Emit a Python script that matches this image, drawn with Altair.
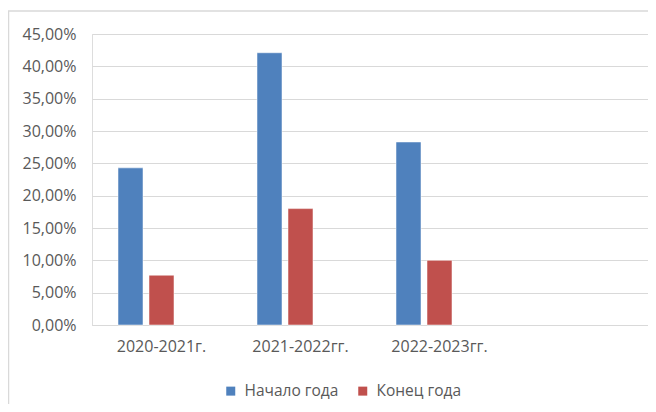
import altair as alt
import pandas as pd

categories = ["2020-2021г.", "2021-2022гг.", "2022-2023гг."]
series = ["Начало года", "Конец года"]
start_values = [0.243, 0.421, 0.283]
end_values = [0.077, 0.180, 0.100]
y_ticks = [0, 0.05, 0.10, 0.15, 0.20, 0.25, 0.30, 0.35, 0.40, 0.45]
colors = ["#4F81BD", "#C0504D"]

rows = []
for c, s, e in zip(categories, start_values, end_values):
    rows.append({"cat": c, "series": series[0], "value": s})
    rows.append({"cat": c, "series": series[1], "value": e})
df = pd.DataFrame(rows)

FONT = "Open Sans"
LABEL_COLOR = "#595959"
GRID = "#d9d9d9"

x_domain = categories + [" "]

bars = alt.Chart(df).mark_bar(stroke="#ffffff", strokeWidth=1, strokeOpacity=0.5).encode(
    x=alt.X("cat:N", sort=x_domain,
            scale=alt.Scale(domain=x_domain, paddingInner=0, paddingOuter=0),
            axis=alt.Axis(title=None, labelAngle=0, ticks=False, domainColor=GRID,
                          labelFont=FONT, labelFontSize=16, labelColor=LABEL_COLOR,
                          labelPadding=13)),
    xOffset=alt.XOffset("series:N",
                        scale=alt.Scale(domain=series + ["_"], paddingInner=0.1935, paddingOuter=0.839)),
    y=alt.Y("value:Q",
            scale=alt.Scale(domain=[0, 0.45], nice=False),
            axis=alt.Axis(title=None, values=y_ticks, ticks=False, domain=False,
                          gridColor=GRID, labelFont=FONT, labelFontSize=16,
                          labelColor=LABEL_COLOR, labelPadding=16,
                          labelExpr="replace(format(datum.value, '.2%'), '.', ',')")),
    color=alt.Color("series:N", scale=alt.Scale(domain=series, range=colors),
                    legend=alt.Legend(title=None, orient="none", direction="horizontal",
                                      legendX=131, legendY=349, symbolType="square",
                                      symbolSize=81, symbolStrokeWidth=0,
                                      labelFont=FONT, labelFontSize=15.5,
                                      labelColor=LABEL_COLOR, columnPadding=16,
                                      labelOffset=6)),
)

frame = alt.Chart(pd.DataFrame({"a": [0]})).mark_rect(
    fill=None, stroke="#d9d9d9", strokeWidth=1.5
).encode(x=alt.value(-83.5), x2=alt.value(620), y=alt.value(-23), y2=alt.value(420))

chart = alt.layer(frame, bars).properties(
    width=556, height=291,
    autosize=alt.AutoSizeParams(type="none"),
    padding={"left": 84, "top": 26, "right": 0, "bottom": 79},
).configure_view(stroke=None).configure(background="white")

chart.save("out.html", embed_options={"renderer": "svg", "actions": False})
